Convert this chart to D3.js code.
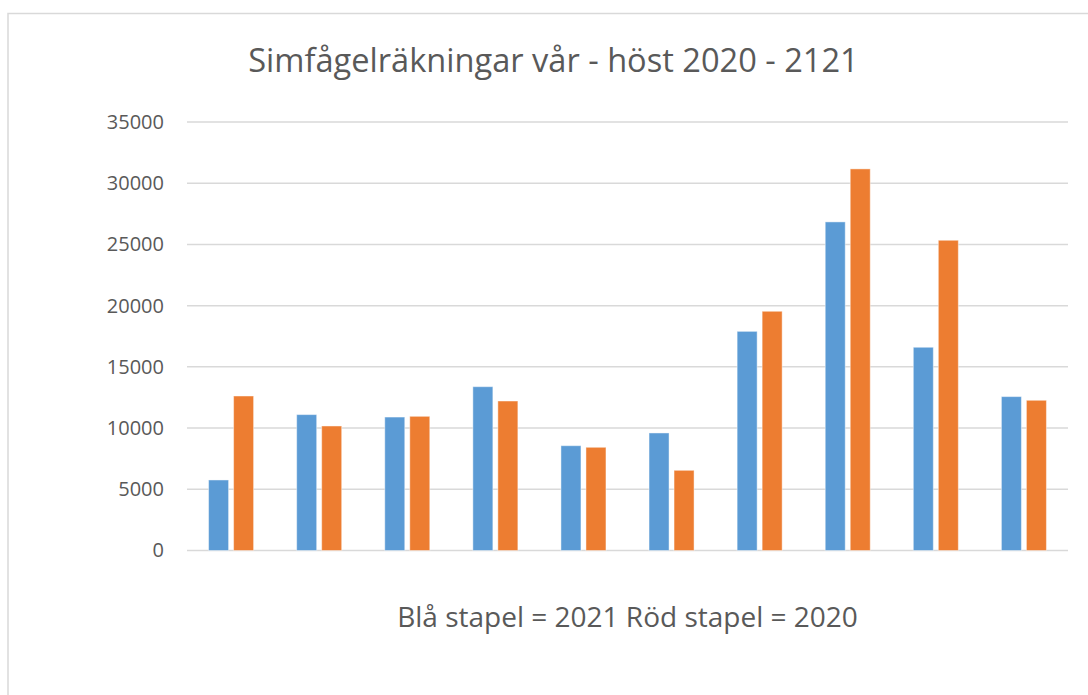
<!DOCTYPE html>
<html>
<head>
<meta charset="utf-8">
<script src="https://cdn.jsdelivr.net/npm/d3@7"></script>
<style>
  body { margin: 0; background: #fff; }
  text { font-family: "Open Sans", sans-serif; fill: #595959; }
</style>
</head>
<body>
<script>
// data
var groups = ["1", "2", "3", "4", "5", "6", "7", "8", "9", "10"];
var series = ["2021", "2020"];
var blue2021 = [5760, 11100, 10900, 13380, 8560, 9600, 17900, 26840, 16600, 12570];
var orange2020 = [12620, 10170, 10960, 12210, 8430, 6550, 19540, 31170, 25340, 12270];
var yTicks = [0, 5000, 10000, 15000, 20000, 25000, 30000, 35000];
var colors = ["#5b9bd5", "#ed7d31"];

var width = 1088, height = 695;
var plot = {left: 187, right: 1068, top: 122, bottom: 550.5};

var svg = d3.select("body").append("svg")
    .attr("width", width)
    .attr("height", height);

// chart area border (runs off the right and bottom edges)
svg.append("rect")
    .attr("x", 8).attr("y", 13.5)
    .attr("width", 1100).attr("height", 700)
    .attr("fill", "#fff")
    .attr("stroke", "#d9d9d9")
    .attr("stroke-width", 1.5);

var y = d3.scaleLinear().domain([0, 35000]).range([plot.bottom, plot.top]);

var x0 = d3.scaleBand().domain(groups)
    .range([plot.left, plot.right])
    .paddingInner(0.489)
    .paddingOuter(0.245);

var x1 = d3.scaleBand().domain(series)
    .range([0, x0.bandwidth()])
    .paddingInner(0.2);

// gridlines
svg.append("g").selectAll("line")
    .data(yTicks)
  .enter().append("line")
    .attr("x1", plot.left).attr("x2", plot.right)
    .attr("y1", function(d) { return y(d); })
    .attr("y2", function(d) { return y(d); })
    .attr("stroke", "#d9d9d9")
    .attr("stroke-width", 1.5);

// y axis labels
var yAxis = d3.axisLeft(y).tickValues(yTicks).tickFormat(d3.format("d"))
    .tickSize(0).tickPadding(0);
var ya = svg.append("g")
    .attr("transform", "translate(164,0)")
    .call(yAxis);
ya.select(".domain").remove();
ya.selectAll("text")
    .style("font-size", "20px")
    .attr("fill", "#595959")
    .attr("font-family", "Open Sans, sans-serif");

// bars
var rows = groups.map(function(g, i) {
  return {group: g, vals: [blue2021[i], orange2020[i]]};
});

var grp = svg.append("g").selectAll("g")
    .data(rows)
  .enter().append("g")
    .attr("transform", function(d) { return "translate(" + x0(d.group) + ",0)"; });

grp.selectAll("rect")
    .data(function(d) { return d.vals.map(function(v, j) { return {key: series[j], v: v, c: colors[j]}; }); })
  .enter().append("rect")
    .attr("x", function(d) { return x1(d.key); })
    .attr("y", function(d) { return y(d.v); })
    .attr("width", x1.bandwidth())
    .attr("height", function(d) { return y(0) - y(d.v); })
    .attr("fill", function(d) { return d.c; })
    .attr("stroke", "#ffffff")
    .attr("stroke-opacity", 0.45)
    .attr("stroke-width", 1);

// title
svg.append("text")
    .attr("x", 553.5).attr("y", 72)
    .attr("text-anchor", "middle")
    .style("font-size", "32.6px")
    .text("Simfågelräkningar vår - höst 2020 - 2121");

// caption below the bars
svg.append("text")
    .attr("x", 627.5).attr("y", 627)
    .attr("text-anchor", "middle")
    .style("font-size", "28px")
    .text("Blå stapel = 2021 Röd stapel = 2020");
</script>
</body>
</html>
